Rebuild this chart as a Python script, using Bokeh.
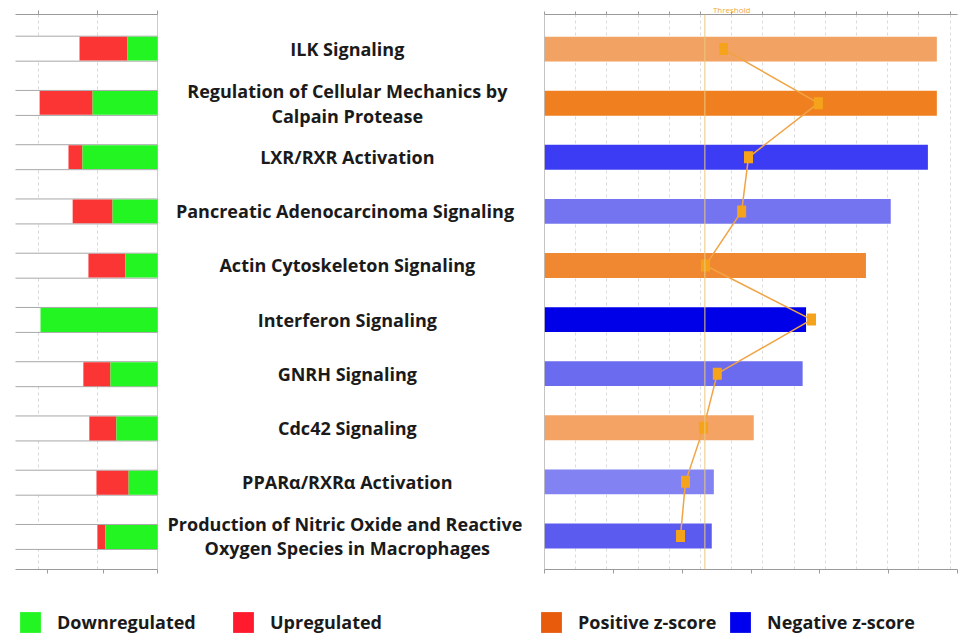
from bokeh.plotting import figure
from bokeh.models import (Range1d, LinearAxis, FixedTicker, Span, Legend, LegendItem,
                          Grid, CustomJSTickFormatter)
from bokeh.layouts import row, column
from bokeh.embed import file_html
from bokeh.resources import INLINE
from bokeh.core.properties import value

# ---- data -------------------------------------------------------------
pathways = [
    "ILK Signaling",
    "Regulation of Cellular Mechanics by\nCalpain Protease",
    "LXR/RXR Activation",
    "Pancreatic Adenocarcinoma  Signaling",
    "Actin Cytoskeleton Signaling",
    "Interferon Signaling",
    "GNRH Signaling",
    "Cdc42 Signaling",
    "PPAR\u03b1/RXR\u03b1 Activation",
    "Production  of Nitric Oxide and Reactive\nOxygen Species in Macrophages",
]
# percent of pathway molecules down / up regulated
downregulated = [10.1, 21.8, 25.2, 15.1, 10.8, 39.3, 15.8, 13.8, 9.7, 17.5]
upregulated = [16.1, 17.8, 4.7, 13.4, 12.4, 0.0, 9.1, 9.1, 10.8, 2.7]
# -log(p-value) bars and overlap ratio line
neg_log_p = [5.70, 5.70, 5.57, 5.03, 4.67, 3.80, 3.75, 3.04, 2.46, 2.43]
ratio = [0.287, 0.439, 0.327, 0.316, 0.258, 0.428, 0.277, 0.255, 0.226, 0.218]
threshold = 2.33

# z-score shading of each pathway bar
bar_colors = ["#F2A262", "#F07F1F", "#3C3CF4", "#7474F1", "#F08731",
              "#0000E8", "#6B6BEF", "#F4A364", "#8282F3", "#5B5BF0"]

GREEN = "#22F522"
RED = "#FB3434"
AXIS = "#9a9a9a"
FONT_NAME = "Open Sans"
FONT = value(FONT_NAME)

n = len(pathways)
ys = [n - 1 - i for i in range(n)]
pct_max = 47.7

blank = CustomJSTickFormatter(code="return ''")


def bare_axis(ax, ticks, out=4, label_size="0px", standoff=0):
    ax.ticker = FixedTicker(ticks=ticks)
    ax.formatter = blank
    ax.axis_line_color = AXIS
    ax.major_tick_line_color = AXIS
    ax.major_tick_in = 0
    ax.major_tick_out = out
    ax.minor_tick_line_color = None
    ax.major_label_text_font_size = label_size
    ax.major_label_standoff = standoff


# ---- left panel: up / down regulated share ----------------------------
left = figure(width=167, height=590, x_range=Range1d(pct_max, 0),
              y_range=Range1d(-0.6, 9.63), output_backend="svg",
              toolbar_location=None, x_axis_location="above",
              y_axis_location=None, min_border_left=15, min_border_right=10,
              min_border_top=14, min_border_bottom=21)
left.outline_line_color = None
bare_axis(left.xaxis[0], [0, 20, 40])
bottom_left = LinearAxis()
bare_axis(bottom_left, [0, 18.2, 37])
left.add_layout(bottom_left, "below")
left.xgrid.ticker = FixedTicker(ticks=[20, 40])
left.xgrid.grid_line_color = "#d8d8d8"
left.xgrid.grid_line_dash = "3 3"
left.add_layout(Span(location=0, dimension="height", line_color=AXIS, line_width=1))

up_end = [d + u for d, u in zip(downregulated, upregulated)]
left.hbar(y=ys, left=0, right=pct_max + 2, height=0.46, fill_color="white",
          line_color="#a8a8a8", line_width=1)
left.hbar(y=ys, left=downregulated, right=up_end, height=0.44,
          fill_color=RED, line_color=None)
left.hbar(y=ys, left=0, right=downregulated, height=0.44,
          fill_color=GREEN, line_color=None)

# ---- right panel: significance bars + ratio line ----------------------
right = figure(width=425, height=590, x_range=Range1d(0, 6),
               y_range=Range1d(-0.62, 9.64), output_backend="svg",
               toolbar_location=None, x_axis_location="below",
               y_axis_location=None, min_border_left=10, min_border_right=2,
               min_border_top=14, min_border_bottom=16)
right.outline_line_color = None
right.extra_x_ranges = {"ratio": Range1d(0, 0.662)}
bare_axis(right.xaxis[0], [0, 1, 2, 3, 4, 5, 6])

# ratio axis on top; one of its ticks carries the "Threshold" caption
top_axis = LinearAxis(x_range_name="ratio")
ratio_ticks = [round(0.05 * k, 2) for k in range(14)]
bare_axis(top_axis, ratio_ticks, out=3, label_size="8px", standoff=-3)
top_axis.major_label_overrides = {0.3: "Threshold"}
top_axis.major_label_text_color = "#F0A83A"
top_axis.major_label_text_font = FONT_NAME
right.add_layout(top_axis, "above")

right.xgrid.visible = False
right.ygrid.visible = False
right.add_layout(Grid(dimension=0, ticker=FixedTicker(ticks=ratio_ticks[1:]),
                      x_range_name="ratio", grid_line_color="#dcdcdc",
                      grid_line_dash="3 3"))
right.add_layout(Span(location=0, dimension="height", line_color="#8a8a8a", line_width=1))

right.hbar(y=ys, left=0, right=neg_log_p, height=0.46, fill_color=bar_colors,
           line_color=None)
right.add_layout(Span(location=threshold, dimension="height",
                      line_color="#EBC77E", line_width=1))
right.line(x=ratio, y=ys, x_range_name="ratio", line_color="#F0A444", line_width=1.5)
right.rect(x=ratio, y=ys, width=9, height=12, width_units="screen",
           height_units="screen", x_range_name="ratio",
           fill_color="#F6A31C", line_color=None)

# ---- middle: pathway names --------------------------------------------
mid = figure(width=367, height=590, x_range=Range1d(0, 1), y_range=right.y_range,
             output_backend="svg", toolbar_location=None,
             x_axis_location=None, y_axis_location=None,
             min_border_left=0, min_border_right=0,
             min_border_top=14, min_border_bottom=16)
mid.outline_line_color = None
mid.grid.visible = False
mid.text(x=0.49, y=ys, text=pathways, text_align="center", text_baseline="middle",
         text_font=FONT, text_font_style="bold", text_font_size="18px",
         text_line_height=1.03, text_color="#1a1a1a")

# ---- legend strip -----------------------------------------------------
leg = figure(width=959, height=43, x_range=Range1d(0, 1), y_range=Range1d(0, 1),
             output_backend="svg", toolbar_location=None,
             x_axis_location=None, y_axis_location=None,
             min_border=0)
leg.outline_line_color = None
leg.grid.visible = False

entries = [("Downregulated", GREEN, 17), ("Upregulated", "#FF1A2E", 230),
           ("Positive z-score", "#E85A0C", 538), ("Negative z-score", "#0000EE", 727)]
for label, color, xpos in entries:
    # swatch renderer kept outside the visible range; only its legend entry shows
    r = leg.hbar(y=[5], left=[5], right=[6], height=0.5, fill_color=color, line_color=None)
    lg = Legend(items=[LegendItem(label=label, renderers=[r])],
                location=(xpos, -2), orientation="horizontal",
                glyph_width=26, glyph_height=26, label_standoff=14,
                padding=0, margin=0, border_line_color=None,
                background_fill_alpha=0, label_text_font=FONT_NAME,
                label_text_font_style="bold", label_text_font_size="18px",
                label_text_color="#1a1a1a")
    leg.add_layout(lg, "center")

layout = column(row(left, mid, right), leg)
open("out.html", "w").write(file_html(layout, INLINE))
